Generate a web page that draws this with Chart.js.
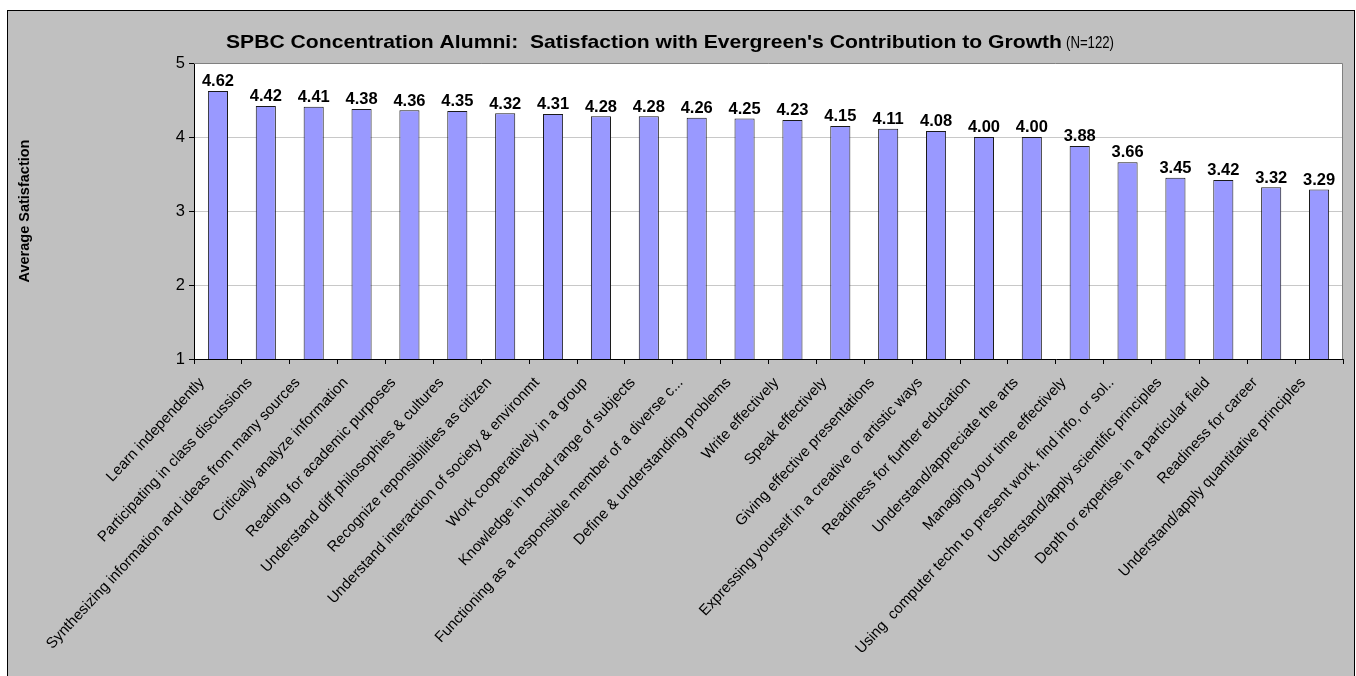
<!DOCTYPE html>
<html><head><meta charset="utf-8">
<script src="https://cdn.jsdelivr.net/npm/chart.js@4/dist/chart.umd.min.js"></script>
<style>html,body{margin:0;padding:0;background:#fff;overflow:hidden}#wrap{position:absolute;left:0;top:0;width:1356px;height:676px}</style>
</head><body><div id="wrap"><canvas id="c" width="1356" height="676"></canvas></div>
<script>
const categories = [
  "Learn independently",
  "Participating in class discussions",
  "Synthesizing information and ideas from many sources",
  "Critically analyze information",
  "Reading for academic purposes",
  "Understand diff philosophies & cultures",
  "Recognize reponsibilities as citizen",
  "Understand interaction of society & environmt",
  "Work cooperatively in a group",
  "Knowledge in broad range of subjects",
  "Functioning as a responsible member of a diverse c...",
  "Define & understanding problems",
  "Write effectively",
  "Speak effectively",
  "Giving effective presentations",
  "Expressing yourself in a creative or artistic ways",
  "Readiness for further education",
  "Understand/appreciate the arts",
  "Managing your time effectively",
  "Using  computer techn to present work, find info, or sol..",
  "Understand/apply scientific principles",
  "Depth or expertise in a particular field",
  "Readiness for career",
  "Understand/apply quantitative principles"
];
const values = [4.62, 4.42, 4.41, 4.38, 4.36, 4.35, 4.32, 4.31, 4.28, 4.28, 4.26, 4.25, 4.23, 4.15, 4.11, 4.08, 4.00, 4.00, 3.88, 3.66, 3.45, 3.42, 3.32, 3.29];
const yTickValues = [1, 2, 3, 4, 5];
const titleMain = "SPBC Concentration Alumni:  Satisfaction with Evergreen's Contribution to Growth";
const titleSuffix = "(N=122)";
const yAxisTitle = "Average Satisfaction";

const FONT = "'Liberation Sans', Arial, sans-serif";

const frame = {
  id: 'frame',
  beforeDraw(chart) {
    const ctx = chart.ctx;
    ctx.save();
    ctx.fillStyle = '#ffffff';
    ctx.fillRect(0, 0, chart.width, chart.height);
    ctx.fillStyle = '#c0c0c0';
    ctx.fillRect(7, 10, 1348, 680);
    ctx.strokeStyle = '#000000';
    ctx.lineWidth = 1;
    ctx.strokeRect(7.5, 10.5, 1347, 680);
    const a = chart.chartArea;
    ctx.fillStyle = '#ffffff';
    ctx.fillRect(a.left, a.top, a.right - a.left, a.bottom - a.top);
    ctx.restore();
  },
  afterDraw(chart) {
    const ctx = chart.ctx;
    const a = chart.chartArea;
    ctx.save();
    ctx.strokeStyle = '#808080';
    ctx.lineWidth = 1;
    ctx.beginPath();
    ctx.moveTo(a.left, a.top + 0.5);
    ctx.lineTo(a.right - 0.5, a.top + 0.5);
    ctx.lineTo(a.right - 0.5, a.bottom);
    ctx.stroke();
    // title (wide rendering in the original)
    ctx.fillStyle = '#000';
    ctx.textBaseline = 'alphabetic';
    ctx.textAlign = 'left';
    ctx.font = 'bold 18.5px ' + FONT;
    const w1 = ctx.measureText(titleMain).width;
    const sx = 836 / w1;
    ctx.save();
    ctx.translate(226, 48);
    ctx.scale(sx, 1);
    ctx.fillText(titleMain, 0, 0);
    ctx.restore();
    ctx.font = '16px ' + FONT;
    const w2 = ctx.measureText(titleSuffix).width;
    ctx.save();
    ctx.translate(1066, 48);
    ctx.scale(48 / w2, 1);
    ctx.fillText(titleSuffix, 0, 0);
    ctx.restore();
    ctx.restore();
  }
};

const valueLabels = {
  id: 'valueLabels',
  afterDatasetsDraw(chart) {
    const ctx = chart.ctx;
    const meta = chart.getDatasetMeta(0);
    ctx.save();
    ctx.fillStyle = '#000';
    ctx.font = 'bold 16.5px ' + FONT;
    ctx.textAlign = 'center';
    ctx.textBaseline = 'bottom';
    meta.data.forEach((bar, i) => {
      ctx.fillText(values[i].toFixed(2), bar.x, bar.y - 1);
    });
    ctx.restore();
  }
};

new Chart(document.getElementById('c'), {
  type: 'bar',
  data: {
    labels: categories,
    datasets: [{
      data: values,
      backgroundColor: '#9999ff',
      borderColor: '#1a1a1a',
      borderWidth: 1,
      borderSkipped: false,
      barPercentage: 0.42,
      categoryPercentage: 1.0
    }]
  },
  options: {
    responsive: false,
    animation: false,
    events: [],
    layout: { padding: { left: 10, top: 63, right: 13, bottom: 10 } },
    plugins: { legend: { display: false }, title: { display: false }, tooltip: { enabled: false } },
    scales: {
      x: {
        type: 'category',
        offset: true,
        grid: { display: true, drawOnChartArea: false, drawTicks: true, tickLength: 5, color: '#000', offset: true },
        border: { display: true, color: '#000', width: 1 },
        ticks: {
          autoSkip: false, maxRotation: 47, minRotation: 47,
          font: { family: FONT, size: 15 }, color: '#000', padding: 10, labelOffset: -16
        },
        afterFit(s) { s.height = 307; }
      },
      y: {
        min: 1, max: 5,
        afterBuildTicks(s) { s.ticks = yTickValues.map(v => ({ value: v })); },
        grid: { color: '#c8c8c8', tickLength: 5, tickColor: '#000', drawTicks: true },
        border: { display: true, color: '#000', width: 1 },
        ticks: { font: { family: FONT, size: 16.5 }, color: '#000', padding: 4 },
        title: { display: true, text: yAxisTitle, font: { family: FONT, size: 14.5, weight: 'bold' }, color: '#000', padding: { top: 6, bottom: 0 } },
        afterFit(s) { s.width = 184; }
      }
    }
  },
  plugins: [frame, valueLabels]
});
</script>
</body></html>
